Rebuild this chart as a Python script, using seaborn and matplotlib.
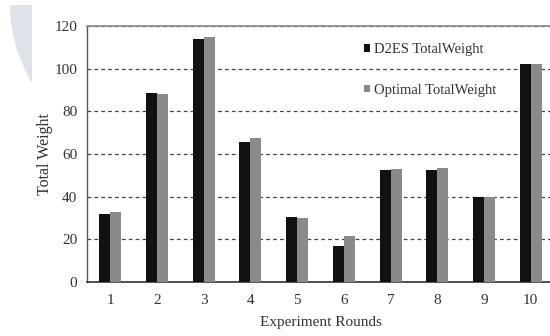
import pandas as pd
import numpy as np
import matplotlib
matplotlib.use("Agg")
import matplotlib.pyplot as plt
import matplotlib.patches as mpatches
import seaborn as sns

# values
rounds = ["1", "2", "3", "4", "5", "6", "7", "8", "9", "10"]
d2es_weight = [32, 88.5, 113.8, 65.8, 30.3, 16.7, 52.5, 52.3, 39.8, 102.2]
optimal_weight = [33, 88.3, 114.7, 67.3, 30.1, 21.7, 53, 53.3, 40, 102.3]
series_names = ["D2ES TotalWeight", "Optimal TotalWeight"]
y_ticks = [0, 20, 40, 60, 80, 100, 120]

df = pd.DataFrame({
    "round": rounds * 2,
    "weight": d2es_weight + optimal_weight,
    "series": [series_names[0]] * len(rounds) + [series_names[1]] * len(rounds),
})

sns.set_theme(style="white")
plt.rcParams["font.family"] = ["Liberation Serif", "DejaVu Serif"]

fig = plt.figure(figsize=(5.5, 3.36), dpi=100)

# pale decorative arc on the left edge of the scanned figure
arc = mpatches.Circle((393 / 550, 1 - 5 / 336), 383 / 550, transform=fig.transFigure,
                      facecolor="#dde3e8", edgecolor="none", zorder=0)
fig.patches.append(arc)
clip = mpatches.Rectangle((0, 1 - 138 / 336), 32 / 550, 133 / 336, transform=fig.transFigure)
arc.set_clip_path(clip)

ax = fig.add_axes([87 / 550, 54 / 336, 467 / 550, 256 / 336])
ax.patch.set_alpha(0)

sns.barplot(data=df, x="round", y="weight", hue="series",
            palette=["#111111", "#8a8a8a"], width=0.47, saturation=1,
            linewidth=0, ax=ax, zorder=3)

ax.set_ylim(0, 120)
ax.set_xlim(-0.5, 9.5)
ax.set_yticks(y_ticks)
ax.yaxis.grid(True, color="#444444", linestyle=(0, (3, 2.5)), linewidth=0.9)
ax.set_axisbelow(True)

for side in ["left", "bottom", "top"]:
    ax.spines[side].set_visible(True)
ax.spines["left"].set_color("#555555")
ax.spines["bottom"].set_color("#333333")
ax.spines["top"].set_color("#888888")
ax.spines["right"].set_visible(False)
ax.spines["left"].set_linewidth(1.0)
ax.spines["bottom"].set_linewidth(1.2)
ax.spines["top"].set_linewidth(1.2)

ax.tick_params(axis="both", length=0, labelsize=11, colors="#333333")
ax.tick_params(axis="x", pad=9)
ax.tick_params(axis="y", pad=7)

ax.set_xlabel("Experiment Rounds", fontsize=11, color="#333333", labelpad=6)
ax.set_ylabel("Total Weight", fontsize=11.5, color="#333333", labelpad=1)

ax.legend(loc="upper left", bbox_to_anchor=(357 / 550, 1 - 36 / 336),
          bbox_transform=fig.transFigure, frameon=False, fontsize=10.5,
          handlelength=0.4, handleheight=0.4, handletextpad=0.3,
          labelspacing=1.9, borderpad=0, labelcolor="#333333")

fig.savefig("out.png", dpi=100)
